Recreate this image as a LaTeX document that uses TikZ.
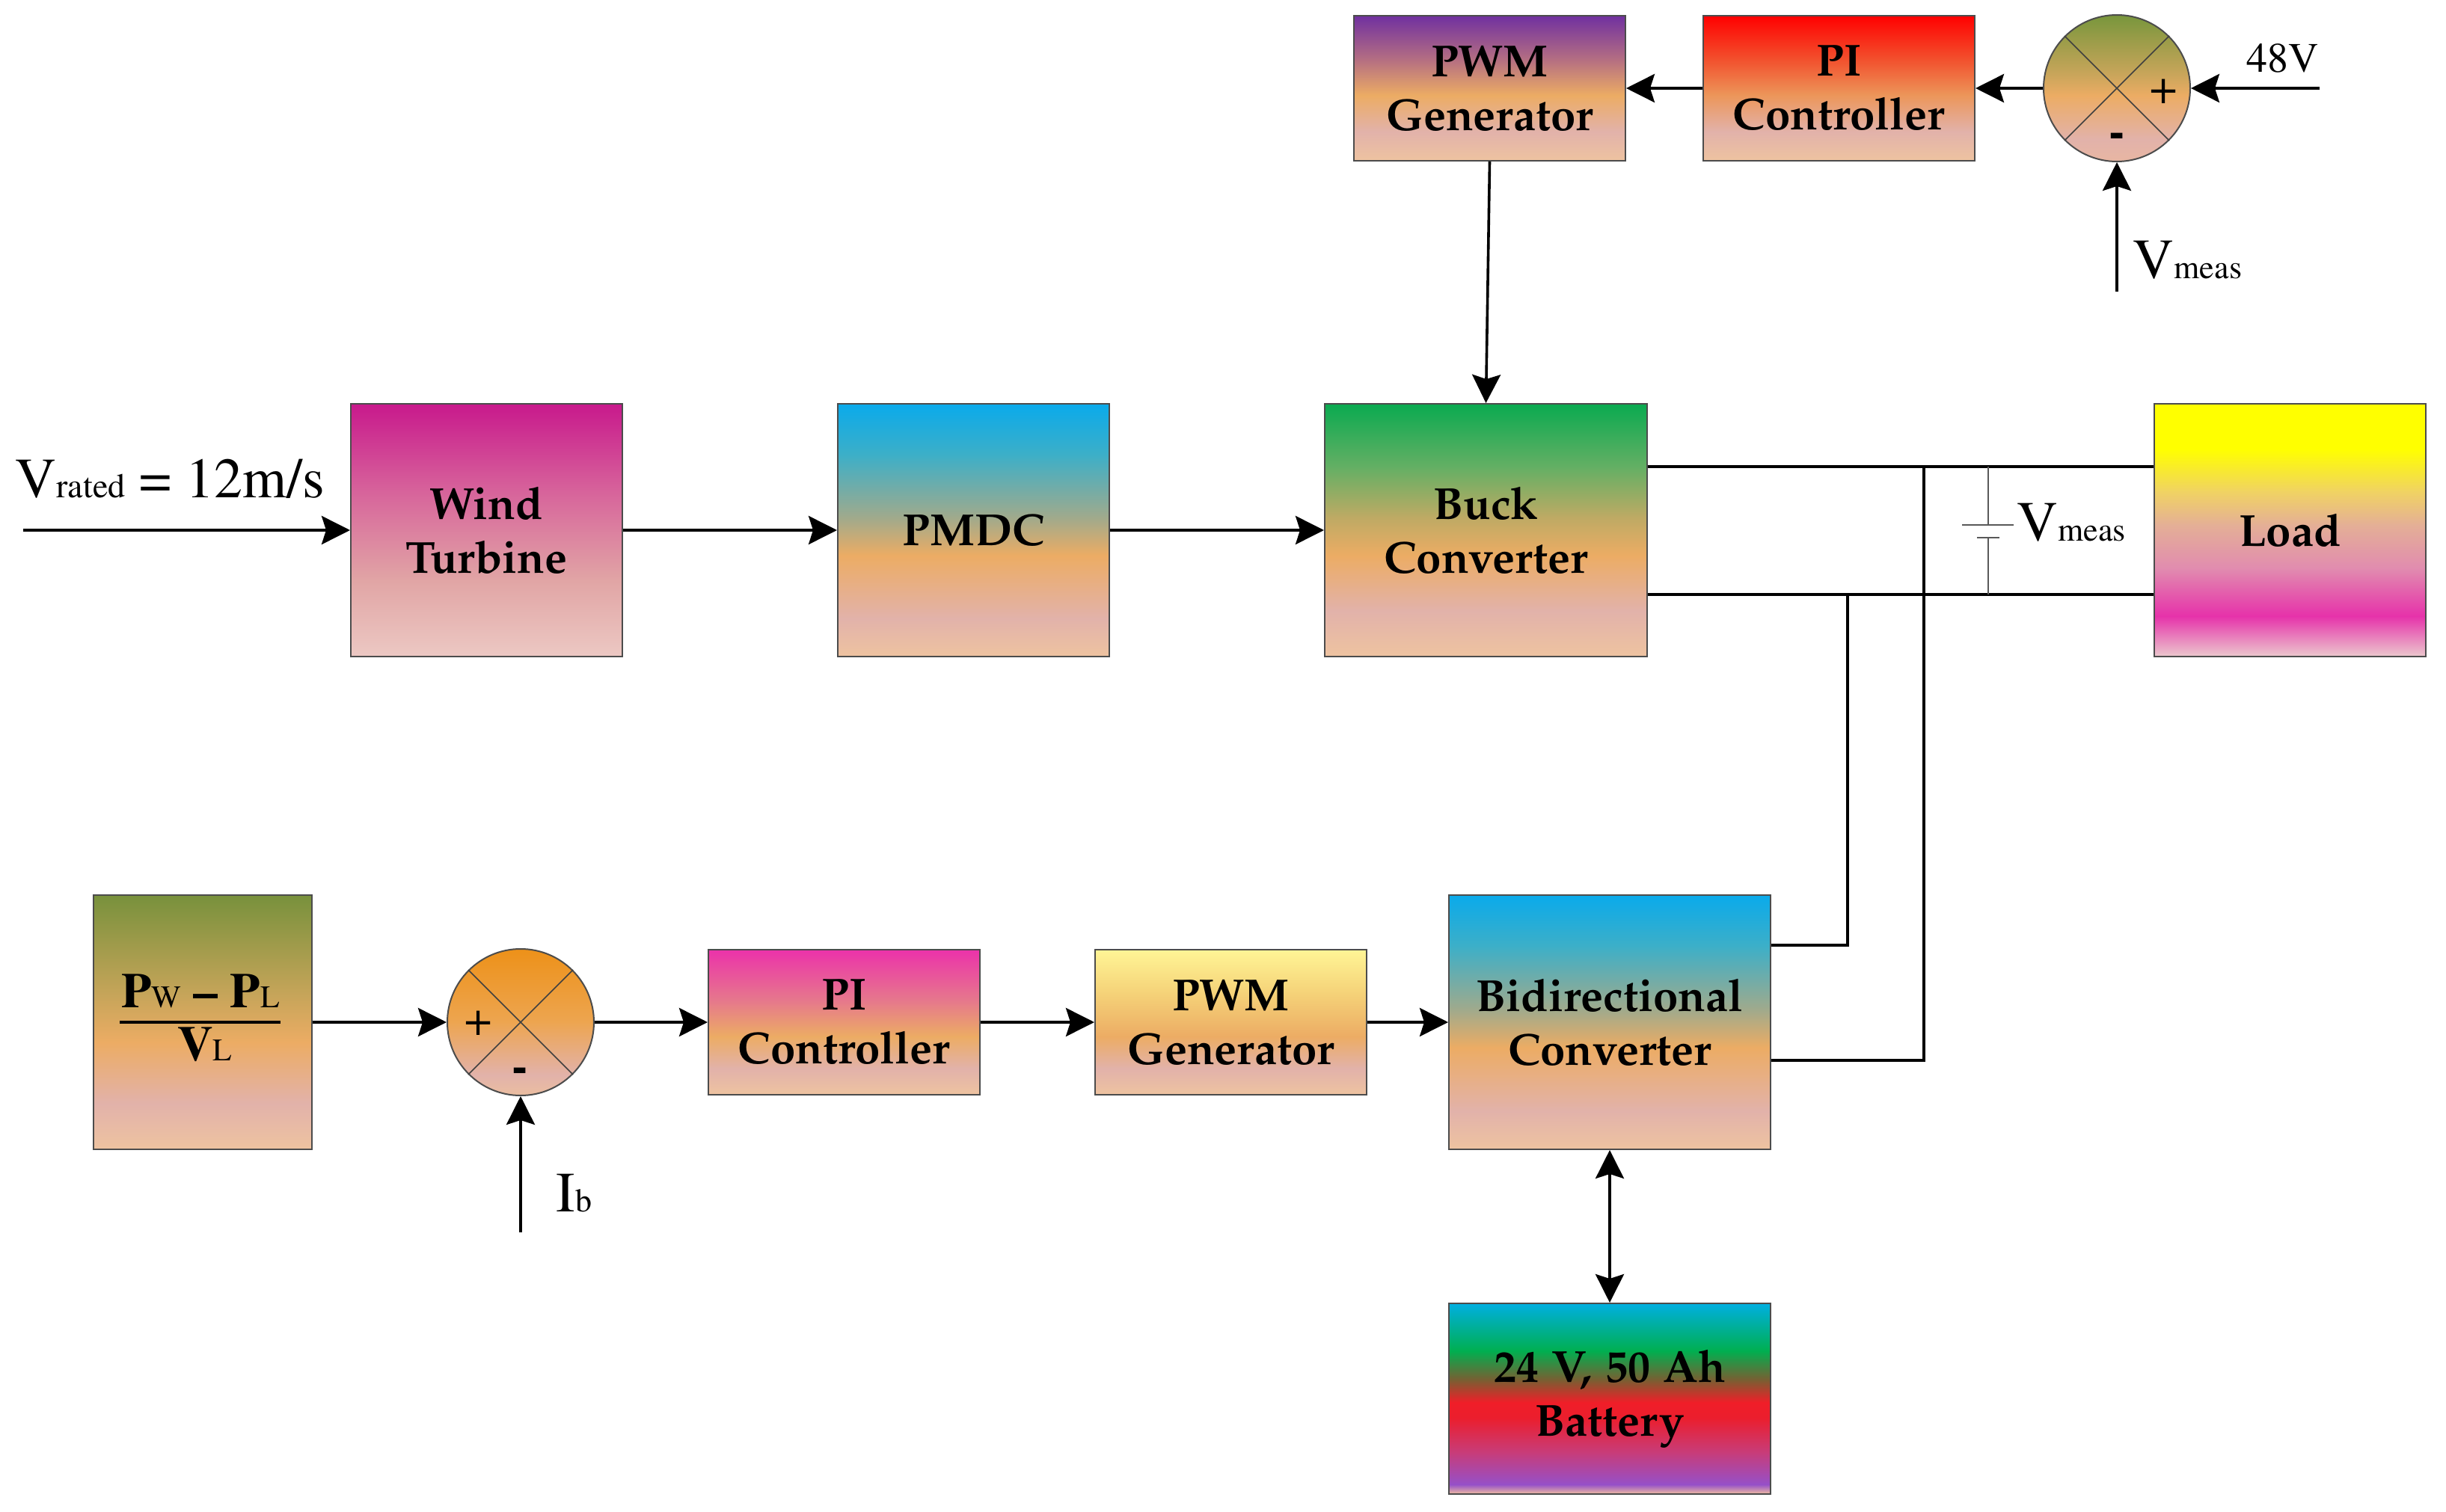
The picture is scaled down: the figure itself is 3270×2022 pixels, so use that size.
\documentclass[tikz,border=0pt]{standalone}
\usepackage[T1]{fontenc}
\usepackage{mathpazo}
\usetikzlibrary{arrows.meta}

\definecolor{cO}{RGB}{236,172,100}
\definecolor{cK}{RGB}{226,178,170}
\definecolor{cE}{RGB}{238,195,160}
\definecolor{pwAa}{RGB}{112,48,160}
\definecolor{pwAb}{RGB}{180,110,130}
\definecolor{piAa}{RGB}{255,0,0}
\definecolor{piAb}{RGB}{242,80,45}
\definecolor{piAc}{RGB}{236,150,90}
\definecolor{sAa}{RGB}{120,150,60}
\definecolor{sAb}{RGB}{200,165,90}
\definecolor{sAd}{RGB}{232,182,162}
\definecolor{wa}{RGB}{200,25,140}
\definecolor{wb}{RGB}{215,100,155}
\definecolor{wc}{RGB}{225,165,165}
\definecolor{wd}{RGB}{236,200,195}
\definecolor{pma}{RGB}{10,170,235}
\definecolor{pmb}{RGB}{60,175,200}
\definecolor{pmc}{RGB}{160,170,140}
\definecolor{bka}{RGB}{10,170,80}
\definecolor{bkb}{RGB}{100,175,100}
\definecolor{bkc}{RGB}{190,170,100}
\definecolor{lda}{RGB}{255,255,0}
\definecolor{ldb}{RGB}{240,210,100}
\definecolor{ldc}{RGB}{228,175,150}
\definecolor{ldd}{RGB}{225,140,175}
\definecolor{lde}{RGB}{230,50,170}
\definecolor{ldf}{RGB}{235,200,205}
\definecolor{fra}{RGB}{120,145,60}
\definecolor{sBa}{RGB}{237,145,25}
\definecolor{sBb}{RGB}{237,165,80}
\definecolor{sBd}{RGB}{235,190,160}
\definecolor{piBa}{RGB}{235,50,170}
\definecolor{piBb}{RGB}{230,120,140}
\definecolor{pwBa}{RGB}{255,245,150}
\definecolor{pwBb}{RGB}{245,210,120}
\definecolor{bta}{RGB}{0,175,225}
\definecolor{btb}{RGB}{0,175,80}
\definecolor{btc}{RGB}{120,95,50}
\definecolor{btd}{RGB}{240,30,40}
\definecolor{bte}{RGB}{235,30,45}
\definecolor{btf}{RGB}{200,60,120}
\definecolor{btg}{RGB}{150,80,200}
\definecolor{bth}{RGB}{240,190,160}

\pgfdeclareverticalshading{shpwmA}{100bp}{color(0bp)=(cE); color(25bp)=(cE); color(35bp)=(cK); color(47.5bp)=(cO); color(60bp)=(pwAb); color(75bp)=(pwAa); color(100bp)=(pwAa)}
\pgfdeclareverticalshading{shpiA}{100bp}{color(0bp)=(cE); color(25bp)=(cE); color(35bp)=(cK); color(47.5bp)=(piAc); color(60bp)=(piAb); color(75bp)=(piAa); color(100bp)=(piAa)}
\pgfdeclareverticalshading{shsumA}{100bp}{color(0bp)=(sAd); color(25bp)=(sAd); color(32.5bp)=(cK); color(47.5bp)=(cO); color(55bp)=(sAb); color(75bp)=(sAa); color(100bp)=(sAa)}
\pgfdeclareverticalshading{shwt}{100bp}{color(0bp)=(wd); color(25bp)=(wd); color(40bp)=(wc); color(57.5bp)=(wb); color(75bp)=(wa); color(100bp)=(wa)}
\pgfdeclareverticalshading{shpm}{100bp}{color(0bp)=(cE); color(25bp)=(cE); color(32.5bp)=(cK); color(45bp)=(cO); color(52.5bp)=(pmc); color(65bp)=(pmb); color(75bp)=(pma); color(100bp)=(pma)}
\pgfdeclareverticalshading{shbk}{100bp}{color(0bp)=(cE); color(25bp)=(cE); color(34bp)=(cK); color(45bp)=(cO); color(52.5bp)=(bkc); color(62.5bp)=(bkb); color(75bp)=(bka); color(100bp)=(bka)}
\pgfdeclareverticalshading{shld}{100bp}{color(0bp)=(ldf); color(25bp)=(ldf); color(33bp)=(lde); color(42.5bp)=(ldd); color(51bp)=(ldc); color(57.5bp)=(ldb); color(66bp)=(lda); color(75bp)=(lda); color(100bp)=(lda)}
\pgfdeclareverticalshading{shfr}{100bp}{color(0bp)=(cE); color(25bp)=(cE); color(34bp)=(cK); color(46bp)=(cO); color(55bp)=(sAb); color(75bp)=(fra); color(100bp)=(fra)}
\pgfdeclareverticalshading{shsumB}{100bp}{color(0bp)=(sBd); color(25bp)=(sBd); color(32bp)=(cK); color(50bp)=(sBb); color(75bp)=(sBa); color(100bp)=(sBa)}
\pgfdeclareverticalshading{shpiB}{100bp}{color(0bp)=(cE); color(25bp)=(cE); color(34bp)=(cK); color(45bp)=(cO); color(57.5bp)=(piBb); color(75bp)=(piBa); color(100bp)=(piBa)}
\pgfdeclareverticalshading{shpwmB}{100bp}{color(0bp)=(cE); color(25bp)=(cE); color(34bp)=(cK); color(45bp)=(cO); color(60bp)=(pwBb); color(75bp)=(pwBa); color(100bp)=(pwBa)}
\pgfdeclareverticalshading{shbat}{100bp}{color(0bp)=(bth); color(25bp)=(bth); color(27.5bp)=(btg); color(36bp)=(btf); color(45bp)=(bte); color(49bp)=(btd); color(55bp)=(btc); color(62.5bp)=(btb); color(75bp)=(bta); color(100bp)=(bta)}

\newcommand\bxfont{\fontfamily{pplx}\fontseries{b}\fontshape{n}\fontsize{15}{18}\selectfont}
\newcommand\tmfont[1]{\fontfamily{ptm}\fontseries{m}\fontshape{n}\fontsize{#1}{#1}\selectfont}
\newcommand\tmbfont[1]{\fontfamily{ptm}\fontseries{b}\fontshape{n}\fontsize{#1}{#1}\selectfont}

\begin{document}
\begin{tikzpicture}[x=0.25pt,y=-0.25pt,
  blk/.style={draw=black!70, line width=0.5pt, shade, inner sep=0pt, align=center, font=\bxfont},
  bigblk/.style={blk, minimum width=90.75pt, minimum height=84.5pt},
  smallblk/.style={blk, minimum width=90.75pt, minimum height=48.5pt},
  sumc/.style={circle, draw=black!70, line width=0.5pt, shade, minimum size=49pt, inner sep=0pt},
  xline/.style={line width=0.4pt, draw=black!75},
  arr/.style={line width=0.9pt, -{Stealth[length=9.5pt,width=9.5pt,inset=1.5pt]}},
  darr/.style={line width=0.9pt, {Stealth[length=9.5pt,width=9.5pt,inset=1.5pt]}-{Stealth[length=9.5pt,width=9.5pt,inset=1.5pt]}},
  wire/.style={line width=0.9pt},
  capw/.style={line width=0.5pt, draw=black!65},
  lbl/.style={inner sep=0pt}]

\fill[white] (0,0) rectangle (3270,2022);
\useasboundingbox (0,0) rectangle (3270,2022);

% top row
\node[smallblk, shading=shpwmA] (pwmA) at (1991.5,118) {PWM\\Generator};
\node[smallblk, shading=shpiA] (piA) at (2458.5,118) {PI\\Controller};
\node[sumc, shading=shsumA] (sumA) at (2830,118) {};
\draw[xline] (sumA.north east) -- (sumA.south west) (sumA.north west) -- (sumA.south east);
\node[lbl, font=\tmfont{16}] (sumAp) at (2893,122) {+};
\node[lbl, font=\tmbfont{16}] (sumAm) at (2830,188) {-};

% middle row
\node[bigblk, shading=shwt] (wt) at (650.5,709) {Wind\\Turbine};
\node[bigblk, shading=shpm] (pmdc) at (1301.5,709) {PMDC};
\node[blk, shading=shbk, minimum width=107.75pt, minimum height=84.5pt] (buck) at (1986.5,709) {Buck\\Converter};
\node[bigblk, shading=shld] (load) at (3061.5,709) {Load};

% bottom row
\node[blk, shading=shfr, minimum width=73pt, minimum height=85pt] (frac) at (271,1367) {};
\node[lbl, anchor=base, font=\tmbfont{16.5}] (fnum) at (268,1347) {P{\tmfont{10.5}W} -- P{\tmfont{10.5}L}};
\node[lbl, anchor=base, font=\tmbfont{16.5}] (fden) at (274,1418) {V{\tmfont{10.5}L}};
\draw[line width=1pt] (160,1367) coordinate (fb1) -- (375,1367) coordinate (fb2);

\node[sumc, shading=shsumB] (sumB) at (696,1367) {};
\draw[xline] (sumB.north east) -- (sumB.south west) (sumB.north west) -- (sumB.south east);
\node[lbl, font=\tmfont{16}] (sumBp) at (640,1368) {+};
\node[lbl, font=\tmbfont{16}] (sumBm) at (695,1438) {-};

\node[smallblk, shading=shpiB] (piB) at (1128.5,1367) {PI\\Controller};
\node[smallblk, shading=shpwmB] (pwmB) at (1645.5,1367) {PWM\\Generator};
\node[blk, shading=shpm, minimum width=107.5pt, minimum height=85pt] (bidir) at (2152,1367) {Bidirectional\\Converter};
\node[blk, shading=shbat, minimum width=107.5pt, minimum height=63.75pt] (bat) at (2152,1870.5) {24 V, 50 Ah\\Battery};

% labels
\node[lbl, anchor=base west] (lvr) at (20,665) {\tmfont{19}V\tmfont{11.5}rated\tmfont{19} = 12m/s};
\node[lbl, anchor=base] (l48) at (3052,97) {\tmfont{14}48V};
\node[lbl, anchor=base west] (lvm1) at (2851,373) {\tmfont{19}V\tmfont{11}meas};
\node[lbl, anchor=base west] (lvm2) at (2696,723) {\tmfont{19}V\tmfont{11}meas};
\node[lbl, anchor=base west] (lib) at (743,1620) {\tmfont{19}I\tmfont{11}b};

% free ends
\coordinate (vin) at (31,709);
\coordinate (in48) at (3101,118);
\coordinate (invm) at (2830,390);
\coordinate (inib) at (696,1648);

% arrows top
\draw[arr] (in48) -- (sumA.east);
\draw[arr] (invm) -- (sumA.south);
\draw[arr] (sumA.west) -- (piA.east);
\draw[arr] (piA.west) -- (pwmA.east);
\draw[arr] (pwmA.south) -- (buck.north);

% arrows middle
\draw[arr] (vin) -- (wt.west);
\draw[arr] (wt.east) -- (pmdc.west);
\draw[arr] (pmdc.east) -- (buck.west);

% dc bus
\coordinate (ya) at (0,624);
\coordinate (yb) at (0,795);
\coordinate (j1) at (2470,795);
\coordinate (j2) at (2572,624);
\draw[wire] (buck.east |- ya) -- (load.west |- ya);
\draw[wire] (buck.east |- yb) -- (load.west |- yb);
\draw[wire] (bidir.east |- 0,1264) -| (j1);
\draw[wire] (bidir.east |- 0,1418) -| (j2);

% capacitor
\coordinate (ct) at (2658,624);
\coordinate (cb) at (2658,795);
\draw[capw] (ct) -- (2658,702);
\draw[capw] (2623,702) -- (2692,702);
\draw[capw] (2643,719) -- (2673,719);
\draw[capw] (2658,719) -- (cb);

% arrows bottom
\draw[arr] (frac.east) -- (sumB.west);
\draw[arr] (sumB.east) -- (piB.west);
\draw[arr] (piB.east) -- (pwmB.west);
\draw[arr] (pwmB.east) -- (bidir.west);
\draw[arr] (inib) -- (sumB.south);
\draw[darr] (bidir.south) -- (bat.north);
\end{tikzpicture}
\end{document}
